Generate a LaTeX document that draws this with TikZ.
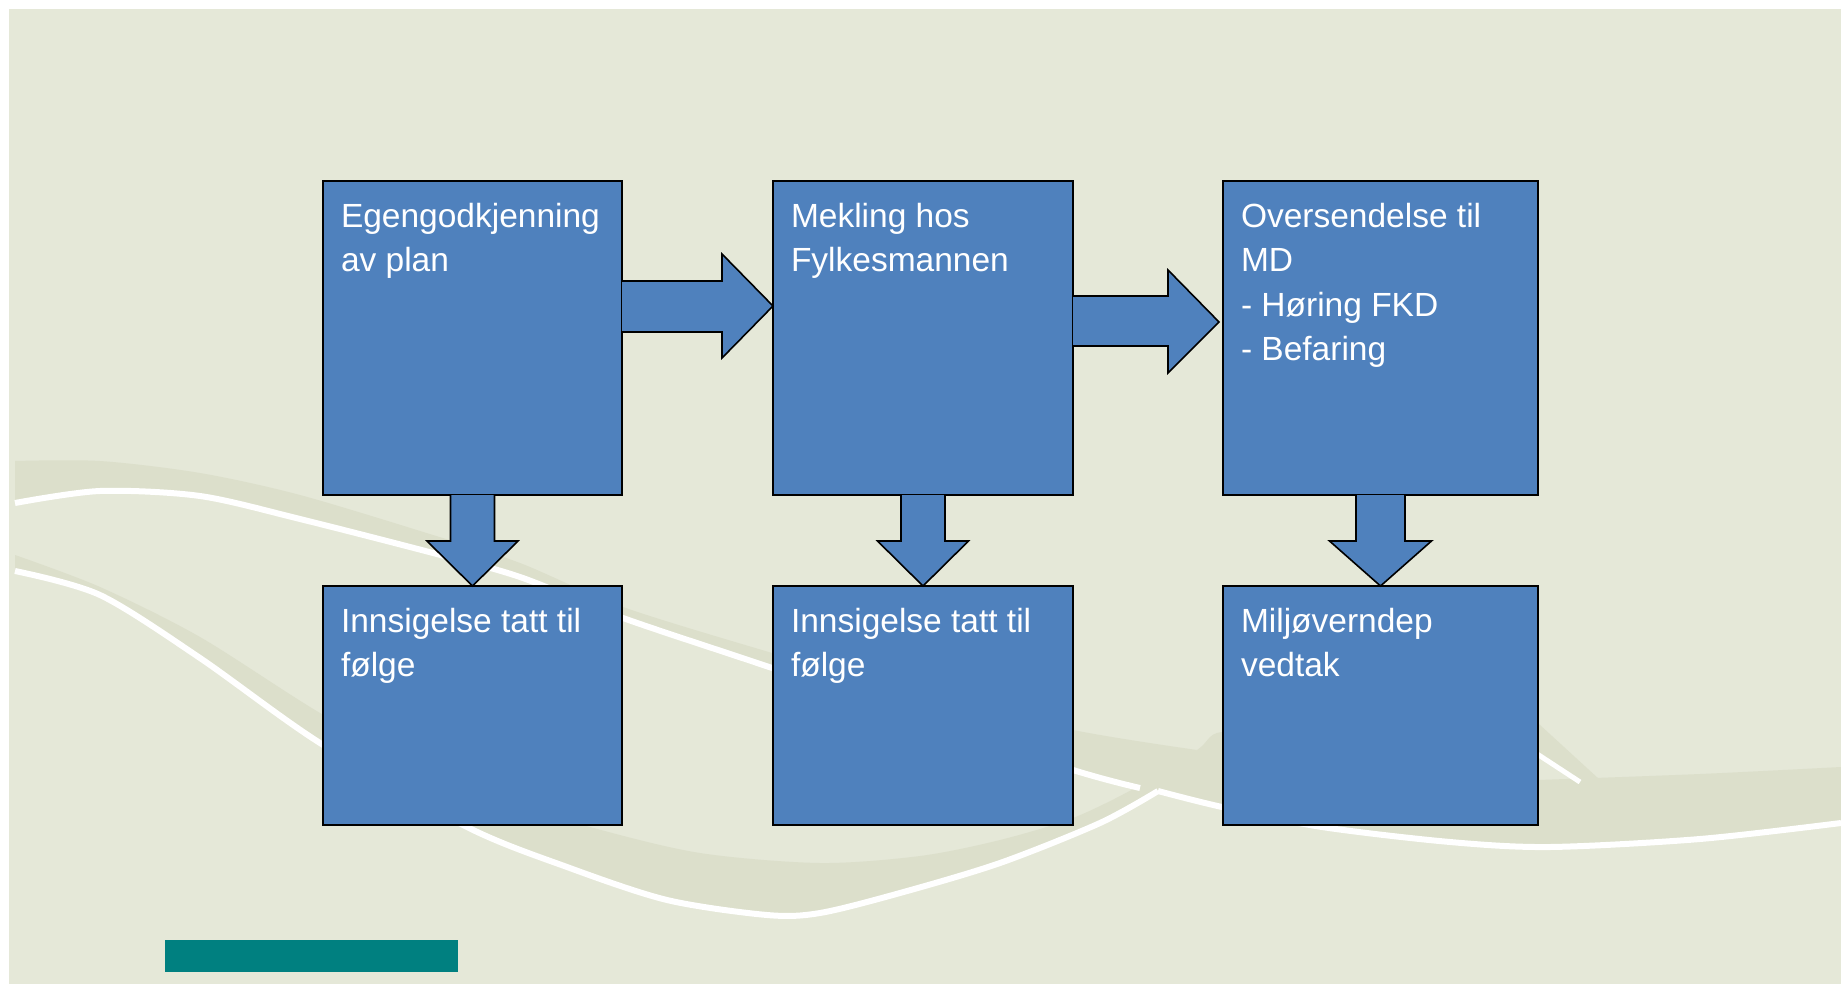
\documentclass[tikz,border=0pt]{standalone}
\usepackage{fontspec}
\setmainfont{Liberation Sans}
\usetikzlibrary{calc}
\definecolor{bgc}{RGB}{229,232,216}
\definecolor{bandc}{RGB}{220,223,203}
\definecolor{boxblue}{RGB}{79,129,189}
\definecolor{tealbar}{RGB}{0,128,128}
\begin{document}
\begin{tikzpicture}[x=1pt,y=-1pt,
  stepbox/.style={draw=black, line width=2pt, fill=boxblue, anchor=north west,
    inner sep=0pt, outer sep=0pt, minimum height=#1},
  wide/.style={minimum width=300pt},
  wider/.style={minimum width=315pt},
  lbl/.style={anchor=north west, inner sep=0pt, outer sep=0pt, align=left, text=white,
    font=\fontsize{33.5}{44.5}\selectfont},
  blockarrow/.style={draw=black, line width=1.6pt, fill=boxblue, line join=miter},
  swline/.style={draw=white, line width=6pt},
]
\useasboundingbox (0,0) rectangle (1841,984);
% background
\fill[white] (0,0) rectangle (1841,984);
\fill[bgc] (9,9) rectangle (1841,984);
% band A (upper swoosh)
\fill[bandc] plot[smooth] coordinates {(15,461) (100,461) (200,473) (300,495) (433,535) (520,563) (623,607) (772,653) (900,690) (1073,730) (1197,750)}
  -- (1150,792)
  -- plot[smooth] coordinates {(1140,788) (1073,770) (900,713) (772,668) (623,618) (520,577) (433,553) (300,519) (200,496) (100,491) (15,503)}
  -- cycle;
% band B (lower swoosh)
\fill[bandc] plot[smooth] coordinates {(15,555) (100,587) (200,637) (320,713) (450,785) (590,827) (700,853) (820,863) (920,856) (1000,840) (1073,818) (1137,787) (1197,750) (1222,732) (1300,740) (1450,770) (1538,780)}
  -- plot[smooth] coordinates {(1538,780) (1700,774) (1841,767)}
  -- (1841,823)
  -- plot[smooth] coordinates {(1841,823) (1700,839) (1550,847) (1450,842) (1322,827) (1222,807) (1158,791)}
  -- plot[smooth] coordinates {(1158,791) (1100,823) (1000,863) (900,893) (820,913) (767,915) (667,900) (567,867) (467,827) (320,743) (200,658) (100,595) (15,571)}
  -- cycle;
% band D (diagonal right)
\fill[bandc] (1528,714) -- (1600,780) -- (1578,780) -- (1528,746) -- cycle;
% white lines
\draw[swline] plot[smooth] coordinates {(15,503) (100,491) (200,496) (300,519) (433,553) (520,577) (623,618) (772,668) (900,713) (1073,770) (1140,788)};
\draw[swline] plot[smooth] coordinates {(15,571) (100,595) (200,658) (320,743) (467,827) (567,867) (667,900) (767,915) (820,913) (900,893) (1000,863) (1100,823) (1158,791)};
\draw[swline] plot[smooth] coordinates {(1158,791) (1222,807) (1322,827) (1450,842) (1550,847) (1700,839) (1841,823)};
\draw[swline, line width=5pt] (1528,748) -- (1580,782);
% teal bar
\fill[tealbar] (165,940) rectangle (458,972);
% boxes
\node[stepbox=314pt, minimum width=299pt] (b1) at (323,181) {};
\node[stepbox=314pt, wide] (b2) at (773,181) {};
\node[stepbox=314pt, wider] (b3) at (1223,181) {};
\node[stepbox=239pt, minimum width=299pt] (b4) at (323,586) {};
\node[stepbox=239pt, wide] (b5) at (773,586) {};
\node[stepbox=239pt, wider] (b6) at (1223,586) {};
% right arrows
\draw[blockarrow] ($(b1.north east)+(0,100)$) -- ($(b1.north east)+(100,100)$) -- ($(b1.north east)+(100,73)$)
  -- ($(b2.north west)+(0,125)$) -- ($(b1.north east)+(100,177)$) -- ($(b1.north east)+(100,151)$)
  -- ($(b1.north east)+(0,151)$);
\draw[blockarrow] ($(b2.north east)+(0,115)$) -- ($(b2.north east)+(95,115)$) -- ($(b2.north east)+(95,89)$)
  -- ($(b3.north west)+(-4,141)$) -- ($(b2.north east)+(95,192)$) -- ($(b2.north east)+(95,165)$)
  -- ($(b2.north east)+(0,165)$);
% down arrows
\draw[blockarrow] ($(b1.south)+(-22,0)$) -- ($(b1.south)+(-22,46)$) -- ($(b1.south)+(-45.5,46)$)
  -- (b4.north) -- ($(b1.south)+(45.5,46)$) -- ($(b1.south)+(22,46)$) -- ($(b1.south)+(22,0)$);
\draw[blockarrow] ($(b2.south)+(-22,0)$) -- ($(b2.south)+(-22,46)$) -- ($(b2.south)+(-45.5,46)$)
  -- (b5.north) -- ($(b2.south)+(45.5,46)$) -- ($(b2.south)+(22,46)$) -- ($(b2.south)+(22,0)$);
\draw[blockarrow] ($(b3.south)+(-24.5,0)$) -- ($(b3.south)+(-24.5,46)$) -- ($(b3.south)+(-51,46)$)
  -- (b6.north) -- ($(b3.south)+(51,46)$) -- ($(b3.south)+(24.5,46)$) -- ($(b3.south)+(24.5,0)$);
% labels
\node[lbl] (t1) at ($(b1.north west)+(18,15)$) {\strut Egengodkjenning\\\strut av plan};
\node[lbl] (t2) at ($(b2.north west)+(18,15)$) {\strut Mekling hos\\\strut Fylkesmannen};
\node[lbl] (t3) at ($(b3.north west)+(18,15)$) {\strut Oversendelse til\\\strut MD\\\strut - Høring FKD\\\strut - Befaring};
\node[lbl] (t4) at ($(b4.north west)+(18,15)$) {\strut Innsigelse tatt til\\\strut følge};
\node[lbl] (t5) at ($(b5.north west)+(18,15)$) {\strut Innsigelse tatt til\\\strut følge};
\node[lbl] (t6) at ($(b6.north west)+(18,15)$) {\strut Miljøverndep\\\strut vedtak};
\end{tikzpicture}
\end{document}
